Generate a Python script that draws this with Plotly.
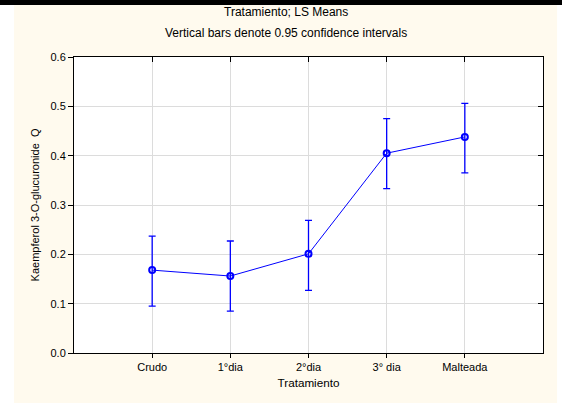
import plotly.graph_objects as go

categories = ["Crudo", "1°dia", "2°dia", "3° dia", "Malteada"]
means = [0.168, 0.156, 0.201, 0.405, 0.438]
upper = [0.237, 0.227, 0.269, 0.475, 0.506]
lower = [0.095, 0.085, 0.127, 0.333, 0.365]
yticks = [0.0, 0.1, 0.2, 0.3, 0.4, 0.5, 0.6]

xpos = list(range(len(categories)))
err_plus = [u - m for u, m in zip(upper, means)]
err_minus = [m - l for m, l in zip(means, lower)]

BLUE = "#0000FF"
CREAM = "#FFFAEE"
FONT = "Liberation Sans, Arial, sans-serif"

fig = go.Figure()
fig.add_trace(go.Scatter(
    x=xpos, y=means, mode="lines+markers",
    line=dict(color=BLUE, width=1),
    marker=dict(symbol="circle-open", size=6, color=BLUE, line=dict(width=2, color=BLUE)),
    error_y=dict(type="data", symmetric=False, array=err_plus, arrayminus=err_minus,
                 color=BLUE, thickness=1.3, width=3.5),
    showlegend=False, hoverinfo="skip",
))
# invisible trace for the mirrored inside-tick axes
fig.add_trace(go.Scatter(x=[xpos[0]], y=[means[0]], xaxis="x2", yaxis="y2",
                         mode="markers", marker=dict(opacity=0), showlegend=False,
                         hoverinfo="skip"))

axis_common = dict(showline=True, linecolor="black", linewidth=1,
                   tickfont=dict(family=FONT, size=11, color="black"),
                   zeroline=False)

fig.update_layout(
    width=562, height=407,
    margin=dict(l=74, r=19, t=57, b=54),
    paper_bgcolor="white", plot_bgcolor="white",
    font=dict(family=FONT, size=11, color="black"),
    xaxis=dict(range=[-1, 5], tickmode="array", tickvals=xpos, ticktext=categories,
               showgrid=True, gridcolor="#DCDCDC", gridwidth=1,
               ticks="outside", ticklen=4, tickcolor="black", mirror=True,
               title=dict(text="Tratamiento", font=dict(family=FONT, size=11.7), standoff=6),
               **axis_common),
    yaxis=dict(range=[0, 0.6], tickmode="array", tickvals=yticks,
               ticktext=[f"{v:.1f}" for v in yticks],
               showgrid=True, gridcolor="#DCDCDC", gridwidth=1,
               ticks="outside", ticklen=5, tickcolor="black", mirror=True,
               title=dict(text="Kaempferol 3-O-glucuronide  Q", font=dict(family=FONT, size=11), standoff=8),
               **axis_common),
    xaxis2=dict(range=[-1, 5], overlaying="x", side="top", tickmode="array",
                tickvals=xpos, showticklabels=False, showgrid=False, zeroline=False,
                ticks="inside", ticklen=5, tickcolor="black", showline=False),
    yaxis2=dict(range=[0, 0.6], overlaying="y", side="right", tickmode="array",
                tickvals=yticks[1:-1], showticklabels=False, showgrid=False, zeroline=False,
                ticks="inside", ticklen=5, tickcolor="black", showline=False),
    shapes=[
        dict(type="rect", xref="paper", yref="paper", x0=-0.128, x1=1.03, y0=-0.169, y1=1.179,
             fillcolor=CREAM, line=dict(width=0), layer="below"),
        dict(type="rect", xref="paper", yref="paper", x0=-0.2, x1=1.1, y0=1.176, y1=1.1926,
             fillcolor="black", line=dict(width=0), layer="below"),
        dict(type="rect", xref="paper", yref="paper", x0=0, x1=1, y0=0, y1=1,
             fillcolor="white", line=dict(width=0), layer="below"),
    ],
    annotations=[
        dict(text="Tratamiento; LS Means", xref="paper", yref="paper", x=0.451, y=1.152,
             showarrow=False, font=dict(family=FONT, size=12), xanchor="center", yanchor="middle"),
        dict(text="Vertical bars denote 0.95 confidence intervals", xref="paper", yref="paper",
             x=0.451, y=1.081, showarrow=False, font=dict(family=FONT, size=12),
             xanchor="center", yanchor="middle"),
    ],
)

fig.write_html("out.html", config={"displayModeBar": False},
               post_script="document.body.style.margin='0';document.body.style.padding='0';")
